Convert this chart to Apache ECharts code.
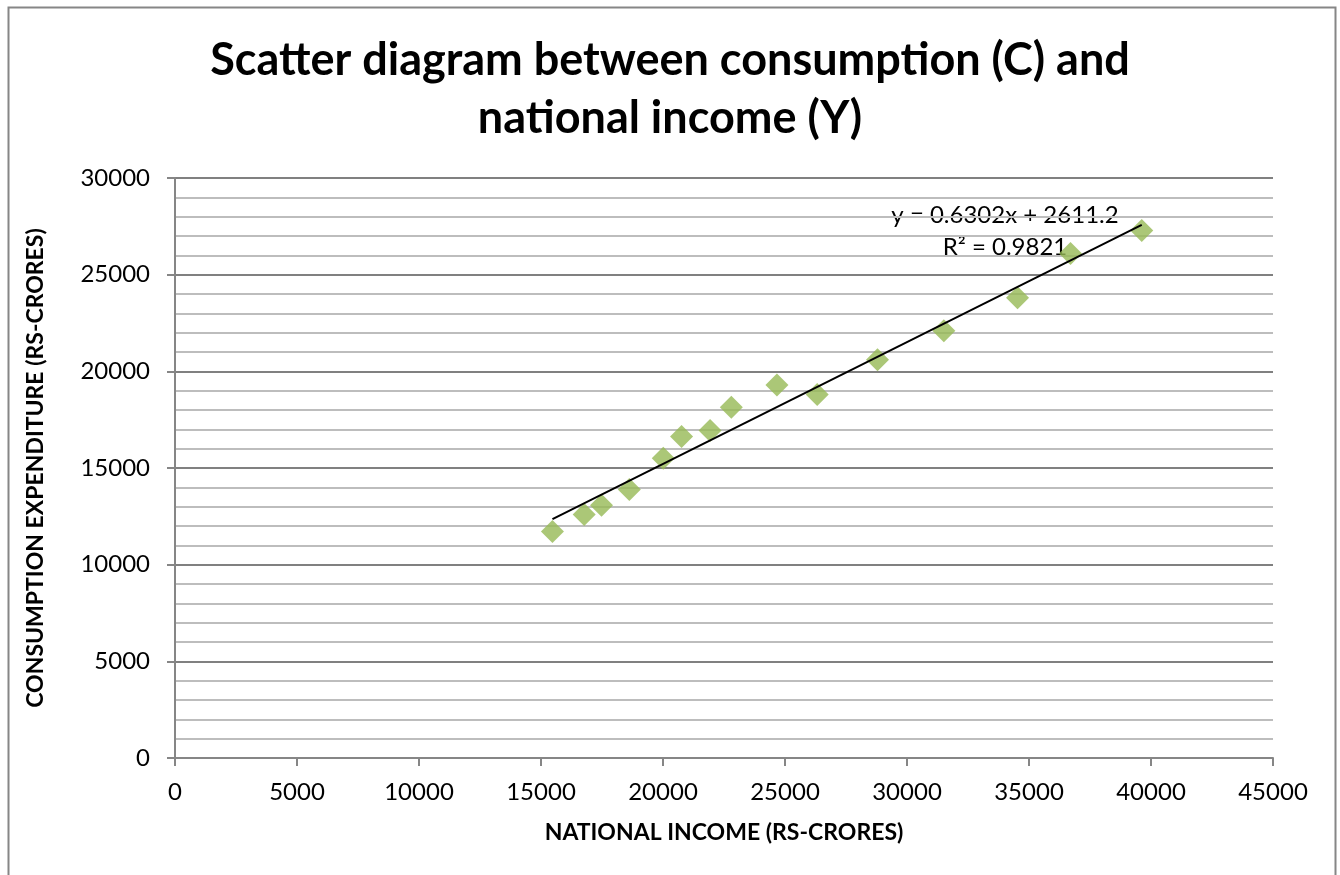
<!DOCTYPE html>
<html>
<head>
<meta charset="utf-8">
<script src="https://cdn.jsdelivr.net/npm/echarts@6/dist/echarts.min.js"></script>
<style>html,body{margin:0;padding:0;background:#fff}#c{width:1340px;height:875px}</style>
</head>
<body>
<div id="c"></div>
<script>
// Data
const nationalIncome = [15470, 16770, 17480, 18620, 20010, 20760, 21930, 22800, 24670, 26320, 28790, 31510, 34530, 36700, 39620];
const consumption   = [11720, 12600, 13070, 13890, 15500, 16630, 16940, 18140, 19290, 18800, 20600, 22100, 23810, 26100, 27290];
const trendSlope = 0.6302;
const trendIntercept = 2611.2;
const trendLabel = ['y = 0.6302x + 2611.2', 'R² = 0.9821'];
const titleText = 'Scatter diagram between consumption (C) and\nnational income (Y)';
const xTitle = 'NATIONAL INCOME (RS-CRORES)';
const yTitle = 'CONSUMPTION EXPENDITURE (RS-CRORES)';

const points = nationalIncome.map((x, i) => [x, consumption[i]]);
const xMin = Math.min(...nationalIncome), xMax = Math.max(...nationalIncome);
const trend = [[xMin, trendSlope * xMin + trendIntercept], [xMax, trendSlope * xMax + trendIntercept]];

const FONT = 'Lato';
const chart = echarts.init(document.getElementById('c'), null, {renderer: 'canvas'});
chart.setOption({
  backgroundColor: '#ffffff',
  animation: false,
  title: {
    text: titleText,
    left: 'center',
    top: 26,
    textStyle: {fontFamily: FONT, fontWeight: 'bold', fontSize: 45, lineHeight: 58, color: '#000'}
  },
  grid: {left: 175, right: 67, top: 178, bottom: 117},
  xAxis: {
    type: 'value', min: 0, max: 45000, interval: 5000,
    name: xTitle, nameLocation: 'middle', nameGap: 63,
    nameTextStyle: {fontFamily: FONT, fontWeight: 'bold', fontSize: 23, color: '#000'},
    axisLine: {show: true, onZero: false, lineStyle: {color: '#868686', width: 2}},
    axisTick: {show: true, inside: false, length: 8, lineStyle: {color: '#868686', width: 2}},
    axisLabel: {margin: 22, fontFamily: FONT, fontSize: 24, color: '#000', formatter: v => String(v)},
    splitLine: {show: false}
  },
  yAxis: {
    type: 'value', min: 0, max: 30000, interval: 5000,
    name: yTitle, nameLocation: 'middle', nameGap: 128, nameRotate: 90,
    nameTextStyle: {fontFamily: FONT, fontWeight: 'bold', fontSize: 23, color: '#000'},
    axisLine: {show: true, onZero: false, lineStyle: {color: '#868686', width: 2}},
    axisTick: {show: true, inside: false, length: 8, lineStyle: {color: '#868686', width: 2}},
    axisLabel: {margin: 25, fontFamily: FONT, fontSize: 24, color: '#000', formatter: v => String(v)},
    splitLine: {show: true, lineStyle: {color: '#808080', width: 2}},
    minorTick: {show: false, splitNumber: 5},
    minorSplitLine: {show: true, lineStyle: {color: '#bdbdbd', width: 2}}
  },
  series: [
    {
      type: 'scatter', data: points, symbol: 'diamond', symbolSize: 23,
      itemStyle: {color: '#96b955'}, z: 3
    },
    {
      type: 'line', data: trend, showSymbol: false, symbol: 'none',
      lineStyle: {color: '#000', width: 2}, z: 4
    }
  ],
  graphic: [
    {type: 'rect', shape: {x: 8.5, y: 7.5, width: 1327, height: 900}, style: {fill: 'none', stroke: '#868686', lineWidth: 2}, silent: true},
    {type: 'text', x: 1005, y: 215, style: {text: trendLabel[0], font: '24px ' + FONT, fill: '#000', align: 'center', verticalAlign: 'middle'}},
    {type: 'text', x: 1005, y: 247, style: {text: trendLabel[1], font: '24px ' + FONT, fill: '#000', align: 'center', verticalAlign: 'middle'}}
  ]
});
</script>
</body>
</html>
